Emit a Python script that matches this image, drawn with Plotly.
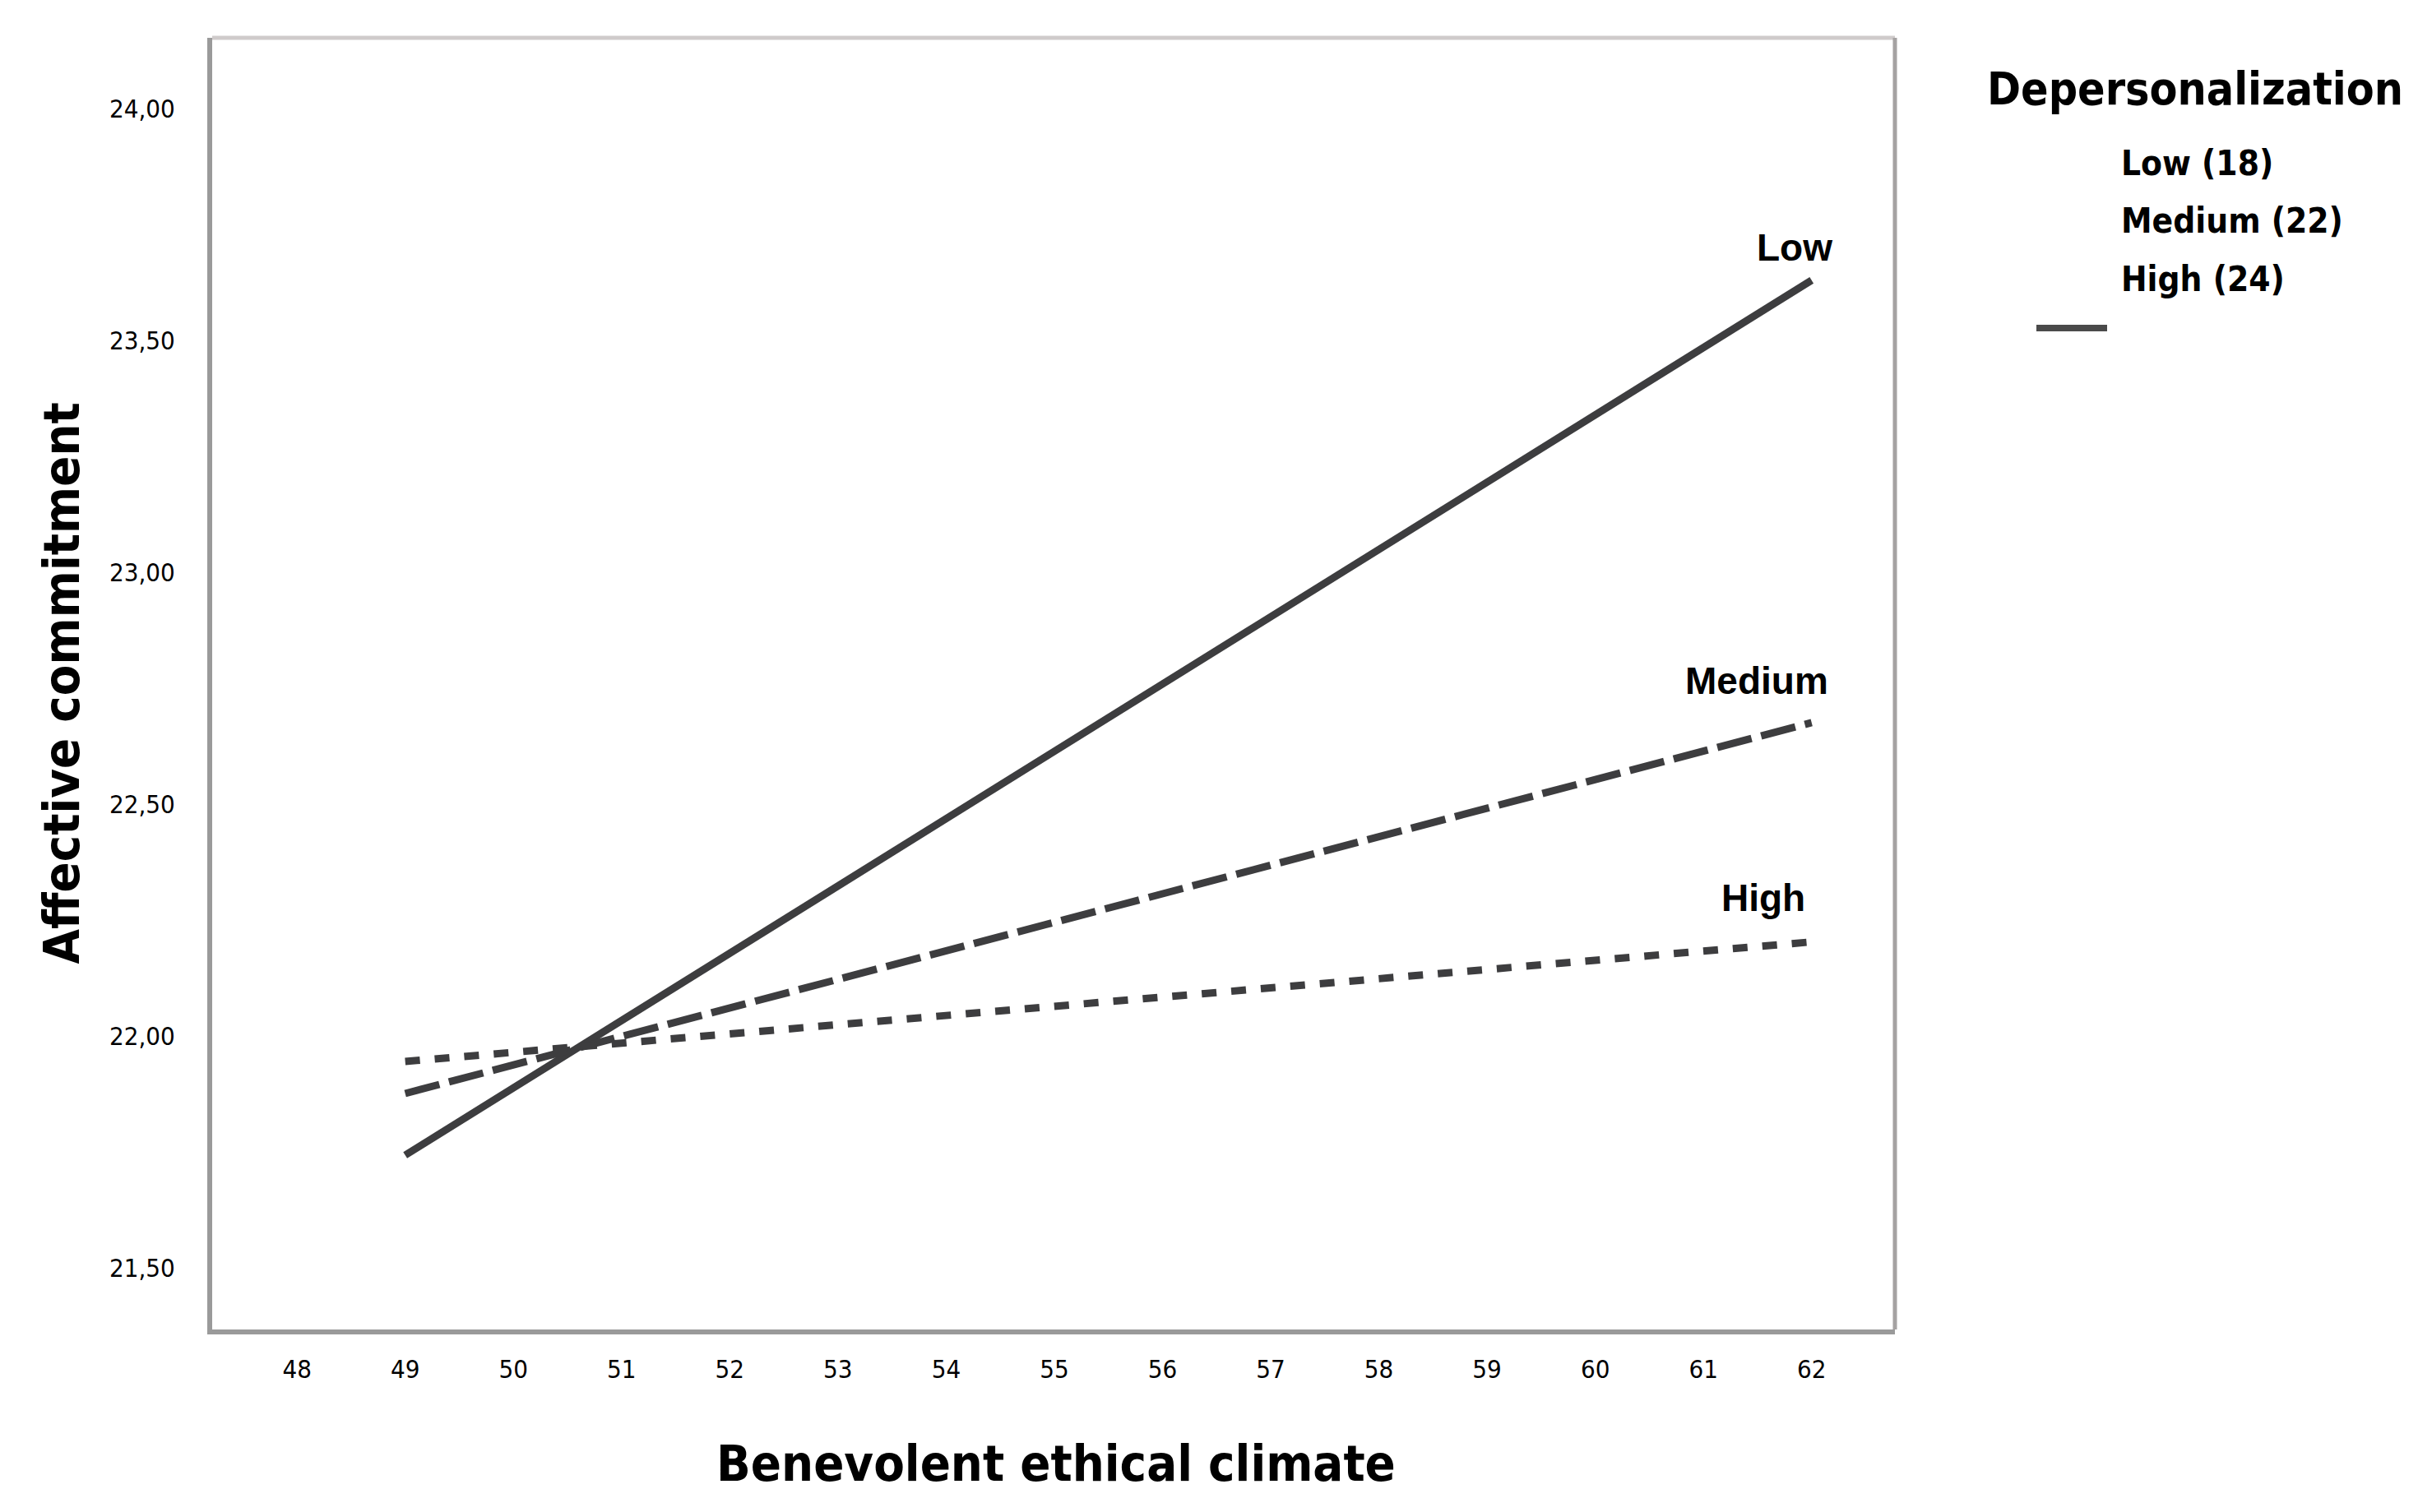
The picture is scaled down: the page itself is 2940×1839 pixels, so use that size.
import plotly.graph_objects as go

# Data
x_vals = [49, 62]
low_vals = [21.743, 23.63]
medium_vals = [21.876, 22.676]
high_vals = [21.945, 22.203]
series_names = ["Low", "Medium", "High"]
legend_labels = ["Low (18)", "Medium (22)", "High (24)"]
x_ticks = list(range(48, 63))
y_ticks = [21.5, 22.0, 22.5, 23.0, 23.5, 24.0]
y_tick_labels = ["21,50", "22,00", "22,50", "23,00", "23,50", "24,00"]

W, H = 2940, 1839
L, R, T, B = 250, 2296, 38, 1609

line_color = "#3d3d3f"
fig = go.Figure()
dashes = ["solid", "43px,12px", "18px,18px"]
for name, vals, d in zip(series_names, [low_vals, medium_vals, high_vals], dashes):
    fig.add_trace(go.Scatter(x=x_vals, y=vals, mode="lines", name=name,
                             line=dict(color=line_color, width=9, dash=d),
                             showlegend=False))

narrow = "DejaVu Sans Condensed, DejaVu Sans, sans-serif"

# line-end labels
label_pos = [(61.84, 23.70), (61.49, 22.766), (61.55, 22.298)]
for name, (lx, ly) in zip(series_names, label_pos):
    fig.add_annotation(x=lx, y=ly, text="<b>%s</b>" % name, showarrow=False,
                       xanchor="center", yanchor="middle",
                       font=dict(family="Liberation Sans", size=46, color="black"))

def px(xp):
    return (xp - L) / (R - L)

def py(yp):
    return (B - yp) / (B - T)

# legend (as drawn in reference)
fig.add_annotation(xref="paper", yref="paper", x=px(2406), y=py(100),
                   text="<b>Depersonalization</b>", showarrow=False,
                   xanchor="left", yanchor="middle",
                   font=dict(family=narrow, size=55, color="black"))
for lab, yy in zip(legend_labels, [190, 261, 331]):
    fig.add_annotation(xref="paper", yref="paper", x=px(2569), y=py(yy),
                       text="<b>%s</b>" % lab, showarrow=False,
                       xanchor="left", yanchor="middle",
                       font=dict(family=narrow, size=42, color="black"))
fig.add_shape(type="line", xref="paper", yref="paper",
              x0=px(2468), x1=px(2554), y0=py(391), y1=py(391),
              line=dict(color="#4a4a4a", width=8))

# axis titles
fig.add_annotation(xref="paper", yref="paper", x=0.5015, y=py(1771),
                   text="<b>Benevolent ethical climate</b>", showarrow=False,
                   xanchor="center", yanchor="middle",
                   font=dict(family=narrow, size=61, color="black"))
fig.add_annotation(xref="paper", yref="paper", x=px(66), y=0.5,
                   text="<b>Affective commitment</b>", showarrow=False,
                   textangle=-90, xanchor="center", yanchor="middle",
                   font=dict(family=narrow, size=61, color="black"))

# top/right border (lighter)
fig.add_shape(type="line", xref="paper", yref="paper", x0=0, x1=1, y0=1, y1=1,
              line=dict(color="#cfcbcb", width=5))
fig.add_shape(type="line", xref="paper", yref="paper", x0=1, x1=1, y0=0, y1=1,
              line=dict(color="#a5a2a2", width=5))

fig.update_layout(
    width=W, height=H,
    margin=dict(l=L, r=W - R, t=T, b=H - B),
    paper_bgcolor="white", plot_bgcolor="white",
    xaxis=dict(range=[47.216, 62.77], tickmode="array", tickvals=x_ticks,
               ticktext=[str(v) for v in x_ticks], showgrid=False, zeroline=False,
               showline=True, linecolor="#9a9a9a", linewidth=6, ticks="",
               ticklabelstandoff=16,
               tickfont=dict(family=narrow, size=31, color="black")),
    yaxis=dict(range=[21.367, 24.153], tickmode="array", tickvals=y_ticks,
               ticktext=y_tick_labels, showgrid=False, zeroline=False,
               showline=True, linecolor="#9a9a9a", linewidth=6, ticks="",
               ticklabelstandoff=33,
               tickfont=dict(family=narrow, size=31, color="black")),
)

fig.write_html("out.html")
